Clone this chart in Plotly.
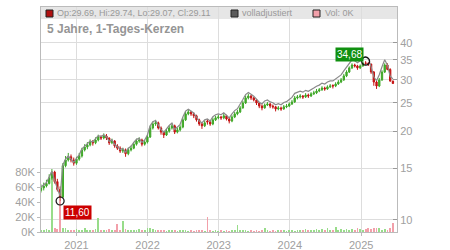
import math
import pandas as pd
import plotly.graph_objects as go

# ---------------- data ----------------
dates = pd.date_range("2020-07-03", periods=130, freq="14D")

open_ = [12.60, 12.85, 13.05, 13.30, 13.90, 14.55, 13.50, 12.70, 11.95, 15.30,
         16.00, 16.40, 16.00, 15.60, 16.10, 16.50, 17.30, 17.70, 18.00, 18.40,
         18.30, 18.70, 19.15, 19.00, 19.30, 19.00, 18.30, 18.55, 17.85, 17.55,
         17.15, 17.30, 16.80, 17.30, 17.55, 18.10, 18.55, 18.70, 18.10, 18.40,
         19.15, 20.55, 21.20, 21.40, 20.55, 19.90, 19.45, 20.05, 20.55, 20.90,
         19.90, 20.25, 20.70, 21.90, 22.95, 23.30, 22.95, 22.60, 21.90, 21.20,
         20.90, 21.70, 21.55, 21.20, 21.90, 22.25, 22.40, 22.25, 22.60, 22.05,
         21.70, 22.40, 22.95, 23.30, 24.05, 25.00, 26.00, 26.40, 26.00, 25.60,
         25.00, 24.40, 24.05, 24.60, 24.80, 24.40, 24.25, 23.85, 24.05, 23.85,
         24.25, 24.40, 24.80, 25.20, 26.00, 26.20, 26.40, 26.20, 26.60, 26.40,
         26.85, 27.05, 27.45, 27.70, 28.10, 27.90, 28.35, 28.70, 28.55, 29.00,
         29.45, 29.95, 30.90, 31.85, 32.90, 33.65, 33.40, 32.90, 33.40, 34.20,
         34.10, 33.90, 31.85, 29.45, 28.55, 29.95, 31.85, 33.65, 32.50, 29.69]
high = [13.20, 13.40, 13.70, 14.30, 14.90, 14.70, 13.80, 13.00, 15.60, 16.50,
        16.90, 16.70, 16.30, 16.40, 16.90, 17.60, 18.10, 18.40, 18.80, 18.70,
        19.10, 19.50, 19.40, 19.70, 19.60, 19.10, 18.90, 18.70, 18.10, 17.80,
        17.60, 17.50, 17.60, 17.90, 18.40, 18.90, 19.10, 18.90, 18.70, 19.50,
        20.90, 21.60, 21.90, 21.60, 20.80, 20.10, 20.40, 20.90, 21.30, 21.10,
        20.60, 21.00, 22.30, 23.40, 23.80, 23.50, 23.20, 22.80, 22.10, 21.50,
        21.80, 22.00, 21.80, 22.30, 22.60, 22.80, 22.60, 23.00, 22.80, 22.30,
        22.70, 23.30, 23.70, 24.40, 25.40, 26.50, 26.90, 26.60, 26.20, 25.80,
        25.20, 24.70, 24.90, 25.20, 25.00, 24.70, 24.40, 24.40, 24.30, 24.60,
        24.80, 25.10, 25.60, 26.40, 26.60, 26.80, 26.60, 27.00, 26.90, 27.20,
        27.50, 27.90, 28.10, 28.50, 28.40, 28.70, 29.00, 28.90, 29.40, 29.90,
        30.40, 31.40, 32.30, 33.30, 34.10, 34.00, 33.70, 33.80, 34.50, 34.68,
        34.40, 34.00, 32.10, 29.80, 30.40, 32.30, 34.10, 34.10, 32.80, 29.74]
low = [12.40, 12.60, 12.90, 13.20, 13.70, 13.30, 12.50, 11.60, 11.90, 15.10,
       15.80, 15.70, 15.30, 15.40, 15.90, 16.30, 17.10, 17.40, 17.80, 17.90,
       18.10, 18.50, 18.70, 18.80, 18.70, 18.00, 18.10, 17.60, 17.30, 16.90,
       16.90, 16.40, 16.60, 17.10, 17.40, 17.90, 18.30, 17.80, 17.90, 18.20,
       19.00, 20.30, 20.90, 20.30, 19.50, 19.00, 19.30, 19.80, 20.30, 19.60,
       19.70, 20.00, 20.50, 21.70, 22.70, 22.60, 22.20, 21.60, 20.90, 20.40,
       20.70, 21.10, 20.90, 21.00, 21.70, 22.00, 21.90, 22.00, 21.80, 21.30,
       21.50, 22.20, 22.70, 23.10, 23.90, 24.80, 25.70, 25.60, 25.30, 24.60,
       24.00, 23.60, 23.90, 24.40, 24.00, 23.90, 23.40, 23.60, 23.50, 23.70,
       24.00, 24.20, 24.60, 25.00, 25.70, 25.90, 25.80, 26.00, 26.00, 26.20,
       26.60, 26.80, 27.20, 27.50, 27.50, 27.70, 28.10, 28.00, 28.30, 28.80,
       29.20, 29.70, 30.60, 31.60, 32.60, 33.00, 32.40, 32.60, 33.20, 33.70,
       33.40, 31.40, 28.60, 27.90, 28.30, 29.70, 31.60, 32.30, 29.50, 29.07]
close = [12.85, 13.05, 13.30, 13.90, 14.55, 13.50, 12.70, 11.95, 15.30, 16.00,
         16.40, 16.00, 15.60, 16.10, 16.50, 17.30, 17.70, 18.00, 18.40, 18.30,
         18.70, 19.15, 19.00, 19.30, 19.00, 18.30, 18.55, 17.85, 17.55, 17.15,
         17.30, 16.80, 17.30, 17.55, 18.10, 18.55, 18.70, 18.10, 18.40, 19.15,
         20.55, 21.20, 21.40, 20.55, 19.90, 19.45, 20.05, 20.55, 20.90, 19.90,
         20.25, 20.70, 21.90, 22.95, 23.30, 22.95, 22.60, 21.90, 21.20, 20.90,
         21.40, 21.55, 21.20, 21.90, 22.25, 22.40, 22.25, 22.60, 22.05, 21.70,
         22.40, 22.95, 23.30, 24.05, 25.00, 26.00, 26.40, 26.00, 25.60, 25.00,
         24.40, 24.05, 24.60, 24.80, 24.40, 24.25, 23.85, 24.05, 23.85, 24.25,
         24.40, 24.80, 25.20, 26.00, 26.20, 26.40, 26.20, 26.60, 26.40, 26.85,
         27.05, 27.45, 27.70, 28.10, 27.90, 28.35, 28.55, 28.55, 29.00, 29.45,
         29.95, 30.90, 31.85, 32.90, 33.65, 33.40, 32.90, 33.40, 34.20, 34.10,
         33.90, 31.85, 29.45, 28.55, 29.95, 31.85, 33.65, 32.50, 29.69, 29.11]
adjusted = [12.95, 13.15, 13.40, 14.00, 14.65, 13.60, 12.80, 12.05, 15.40, 16.10,
            16.50, 16.10, 15.70, 16.20, 16.65, 17.45, 17.85, 18.15, 18.55, 18.45,
            18.90, 19.35, 19.20, 19.50, 19.20, 18.50, 18.75, 18.05, 17.75, 17.35,
            17.50, 17.00, 17.55, 17.80, 18.35, 18.80, 18.95, 18.35, 18.70, 19.45,
            20.90, 21.60, 21.80, 20.95, 20.30, 19.85, 20.45, 20.95, 21.35, 20.30,
            20.70, 21.15, 22.40, 23.45, 23.80, 23.45, 23.10, 22.40, 21.70, 21.40,
            21.90, 22.05, 21.70, 22.45, 22.80, 22.95, 22.80, 23.15, 22.60, 22.25,
            22.95, 23.55, 23.90, 24.70, 25.70, 26.70, 27.15, 26.75, 26.35, 25.75,
            25.15, 24.80, 25.40, 25.60, 25.20, 25.05, 24.65, 24.85, 24.65, 25.10,
            25.25, 25.70, 26.10, 26.95, 27.15, 27.40, 27.20, 27.60, 27.40, 27.85,
            28.10, 28.50, 28.75, 29.20, 29.00, 29.45, 29.70, 29.70, 30.15, 30.65,
            31.15, 32.15, 33.15, 34.25, 35.05, 34.80, 34.25, 34.80, 35.60, 35.90,
            35.30, 33.20, 30.70, 29.75, 31.20, 33.20, 35.05, 33.60, 30.80, 30.20]
volume_k = [3, 2, 4, 3, 80, 5, 4, 42, 6, 5,
            3, 2, 3, 4, 3, 2, 5, 3, 2, 3,
            4, 19, 3, 2, 3, 4, 2, 3, 11, 3,
            15, 4, 2, 3, 2, 3, 4, 2, 3, 5,
            6, 4, 3, 2, 3, 2, 1, 2, 3, 2,
            1, 2, 3, 2, 1, 2, 1, 2, 3, 2,
            1, 20, 2, 1, 2, 1, 2, 1, 2, 1,
            2, 3, 10, 2, 3, 2, 1, 2, 1, 2,
            1, 2, 6, 2, 1, 2, 1, 2, 3, 2,
            1, 3, 2, 1, 2, 3, 2, 4, 3, 2,
            3, 4, 3, 4, 2, 6, 3, 2, 7, 3,
            4, 3, 4, 3, 4, 3, 5, 4, 3, 4,
            5, 4, 6, 5, 6, 3, 4, 3, 5, 12]

year_ticks = ["2021-01-01", "2022-01-01", "2023-01-01", "2024-01-01", "2025-01-01"]
year_labels = ["2021", "2022", "2023", "2024", "2025"]
price_ticks = [10, 15, 20, 25, 30, 35, 40]
vol_ticks = [0, 20000, 40000, 60000, 80000]
vol_labels = ["0K", "20K", "40K", "60K", "80K"]

title_text = "5 Jahre, 1-Tages-Kerzen"
ohlc_text = "Op:29.69, Hi:29.74, Lo:29.07, Cl:29.11"
adj_text = "volladjustiert"
vol_text = "Vol: 0K"
hi_label = "34,68"
lo_label = "11,60"

# ---------------- styling ----------------
FONT = "Liberation Sans, Arial, sans-serif"
GREEN = "#3fa828"
RED = "#c51414"
VOL_GREEN = "#98dc8a"
VOL_RED = "#f2a0aa"
GRID = "#dddddd"
TXT = "#a0a0a0"

L, R, T, B = 41, 397, 7, 232
def px(x):
    return (x - L) / (R - L)
def py(y):
    return (B - y) / (B - T)

volume = [v * 1000 for v in volume_k]
vol_colors = [VOL_GREEN if c >= o else VOL_RED for o, c in zip(open_, close)]

i_hi = high.index(max(high))
i_lo = low.index(min(low))

fig = go.Figure()
fig.add_trace(go.Bar(x=dates, y=volume, marker=dict(color=vol_colors, line=dict(width=0)),
                     width=4 * 86400000, yaxis="y", showlegend=False, hoverinfo="skip"))
fig.add_trace(go.Scatter(x=dates, y=adjusted, mode="lines", line=dict(color="#8a8a8a", width=1.2),
                         yaxis="y2", showlegend=False, hoverinfo="skip"))
fig.add_trace(go.Candlestick(x=dates, open=open_, high=high, low=low, close=close, yaxis="y2",
                             increasing=dict(line=dict(color=GREEN, width=1), fillcolor=GREEN),
                             decreasing=dict(line=dict(color=RED, width=1), fillcolor=RED),
                             whiskerwidth=0, showlegend=False, hoverinfo="skip"))
fig.add_trace(go.Scatter(x=[dates[i_hi], dates[i_lo]], y=[high[i_hi], low[i_lo]], mode="markers",
                         marker=dict(symbol="circle-open", size=8, color="#111111", line=dict(width=1.2)),
                         yaxis="y2", showlegend=False, hoverinfo="skip"))

shapes = [
    dict(type="rect", xref="paper", yref="paper", x0=0, x1=1, y0=py(19), y1=1,
         fillcolor="#e6e6e6", line=dict(width=0), layer="below"),
    dict(type="rect", xref="paper", yref="paper", x0=px(46), x1=px(53), y0=py(17), y1=py(10),
         fillcolor="#b01010", line=dict(color="#222222", width=1)),
    dict(type="rect", xref="paper", yref="paper", x0=px(231), x1=px(238), y0=py(17), y1=py(10),
         fillcolor="#5a5a5a", line=dict(color="#222222", width=1)),
    dict(type="rect", xref="paper", yref="paper", x0=px(313), x1=px(320), y0=py(17), y1=py(10),
         fillcolor="#f2a0aa", line=dict(color="#222222", width=1)),
]

annotations = [
    dict(xref="paper", yref="paper", x=px(55), y=py(13.5), text=ohlc_text, showarrow=False,
         xanchor="left", yanchor="middle", font=dict(family=FONT, size=9, color="#999999")),
    dict(xref="paper", yref="paper", x=px(240), y=py(13.5), text=adj_text, showarrow=False,
         xanchor="left", yanchor="middle", font=dict(family=FONT, size=9, color="#999999")),
    dict(xref="paper", yref="paper", x=px(323), y=py(13.5), text=vol_text, showarrow=False,
         xanchor="left", yanchor="middle", font=dict(family=FONT, size=9, color="#999999")),
    dict(xref="paper", yref="paper", x=px(45), y=py(29), text="<b>" + title_text + "</b>",
         showarrow=False, xanchor="left", yanchor="middle",
         font=dict(family=FONT, size=12, color="#959595")),
    dict(xref="x", yref="y2", x=dates[i_hi], y=math.log10(high[i_hi]), text=hi_label,
         showarrow=False, xanchor="right", yanchor="bottom", xshift=-2, yshift=-1,
         bgcolor="#109010", borderpad=1, font=dict(family=FONT, size=10, color="white")),
    dict(xref="x", yref="y2", x=dates[i_lo], y=math.log10(low[i_lo]), text=lo_label,
         showarrow=False, xanchor="left", yanchor="top", xshift=3, yshift=-4,
         bgcolor="#cc0000", borderpad=1, font=dict(family=FONT, size=10, color="white")),
]

fig.update_layout(
    width=450, height=250, autosize=False,
    margin=dict(l=L, r=450 - R, t=T, b=250 - B, pad=0, autoexpand=False),
    paper_bgcolor="white", plot_bgcolor="white",
    showlegend=False, bargap=0,
    font=dict(family=FONT, size=11, color=TXT),
    xaxis=dict(type="date", range=["2020-07-03", "2025-07-04"], tickvals=year_ticks,
               ticktext=year_labels, showgrid=True, gridcolor=GRID, gridwidth=1,
               showline=True, linecolor="#bbbbbb", linewidth=1, mirror=True,
               ticks="outside", ticklen=3, tickcolor="#bbbbbb", automargin=False,
               tickfont=dict(family=FONT, size=11, color=TXT),
               rangeslider=dict(visible=False), zeroline=False),
    yaxis=dict(side="left", range=[0, 300000], tickvals=vol_ticks, ticktext=vol_labels,
               showgrid=False, zeroline=False, showline=True, linecolor="#bbbbbb",
               ticks="outside", ticklen=3, tickcolor="#bbbbbb", automargin=False,
               tickfont=dict(family=FONT, size=11, color=TXT)),
    yaxis2=dict(overlaying="y", side="right", type="log",
                range=[math.log10(9.1), math.log10(53)], tickvals=price_ticks,
                ticktext=[str(v) for v in price_ticks], automargin=False,
                showgrid=True, gridcolor=GRID, gridwidth=1, zeroline=False,
                showline=True, linecolor="#bbbbbb", ticks="inside", ticklen=4,
                tickcolor="#999999", tickfont=dict(family=FONT, size=11, color=TXT)),
    shapes=shapes, annotations=annotations,
)

fig.write_html("out.html")
